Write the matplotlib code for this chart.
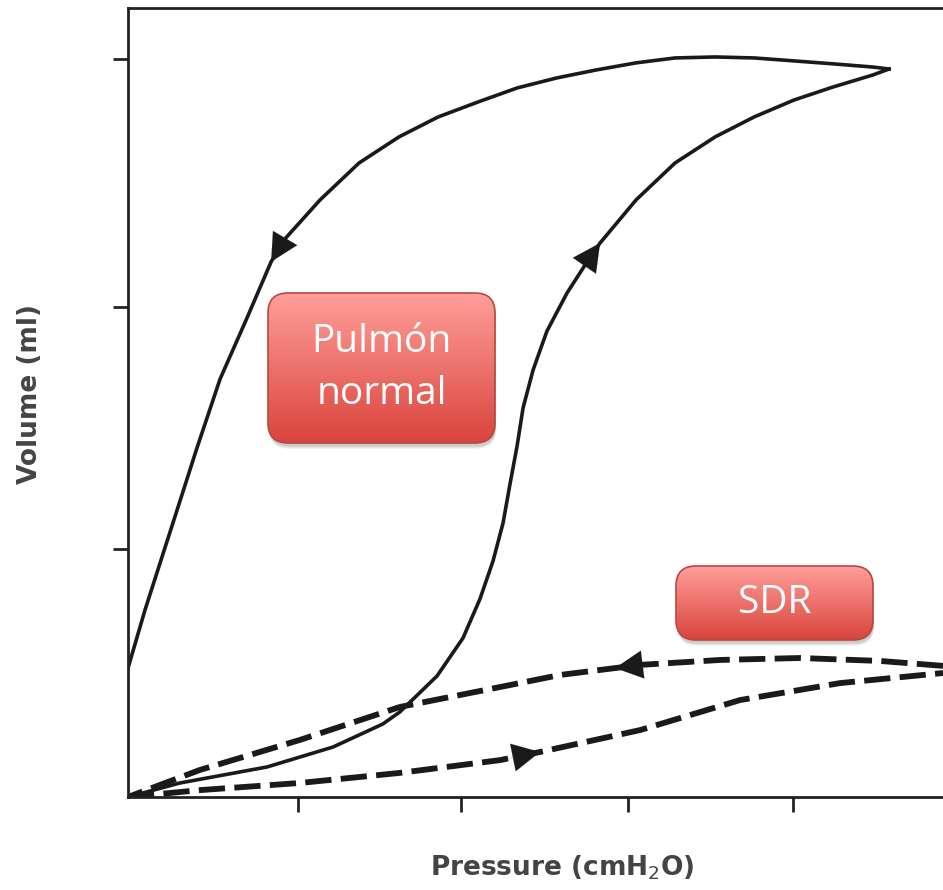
import matplotlib
matplotlib.use("Agg")
import matplotlib.pyplot as plt
from matplotlib.patches import FancyBboxPatch, Rectangle
from matplotlib.transforms import IdentityTransform
import numpy as np

# pressure / volume loops (arbitrary units, no tick labels)
normal_insp_p = [0, 3.15, 8.42, 12.42, 15.45, 16.48, 18.73, 20.30, 21.33, 22.12, 22.73,
                 23.15, 23.58, 23.94, 24.55, 25.39, 26.61, 27.82, 28.61, 30.79, 33.15,
                 35.58, 37.94, 40.36, 42.73, 45.15, 46.12]
normal_insp_v = [0, 5.7, 12.2, 20.3, 29.7, 34.6, 49.2, 64.6, 80.5, 95.9, 111.4,
                 127.2, 142.7, 158.1, 173.6, 189.4, 204.9, 217.5, 225.2, 242.7, 257.7,
                 268.3, 276.4, 283.3, 288.6, 293.5, 295.9]
normal_exp_p = [46.12, 45.15, 42.73, 40.36, 37.94, 35.58, 33.15, 30.79, 28.36, 26.0,
                23.58, 21.21, 18.79, 16.42, 14.0, 11.64, 9.45, 8.67, 7.21, 5.58,
                4.18, 3.15, 2.12, 1.03, 0]
normal_exp_v = [295.9, 296.7, 298.0, 299.2, 300.4, 300.8, 300.4, 298.4, 295.5, 292.3,
                288.2, 282.5, 276.4, 268.3, 257.7, 242.7, 226.4, 217.5, 194.7, 169.9,
                141.9, 120.3, 98.8, 76.0, 52.4]
sdr_exp_p = [49.39, 45.58, 40.73, 35.88, 31.03, 29.52, 26.18, 22.55, 16.48, 10.42, 4.36, 1.94, 0]
sdr_exp_v = [53.3, 55.3, 56.5, 55.7, 53.7, 52.4, 49.6, 44.7, 36.6, 23.2, 11.0, 4.9, 0]
sdr_insp_p = [0, 4.36, 10.42, 16.48, 22.55, 24.97, 31.03, 37.09, 43.15, 49.39]
sdr_insp_v = [0, 2.8, 5.7, 9.8, 15.0, 18.3, 27.2, 39.4, 46.3, 50.4]

x_ticks = [10.3, 20.2, 30.3, 40.3]
y_ticks = [101, 199, 300]

W, H = 943, 890
fig = plt.figure(figsize=(W / 100, H / 100), dpi=100)
ax = fig.add_axes([128 / W, 93 / H, 1 - 128 / W, 789 / H])
ax.set_xlim(0, 49.39)
ax.set_ylim(0, 320.7)

ink = "#1a1a1a"
ax.plot(normal_insp_p, normal_insp_v, color=ink, lw=2.6, solid_joinstyle="round")
ax.plot(normal_exp_p, normal_exp_v, color=ink, lw=2.6, solid_joinstyle="round")
ax.plot(sdr_exp_p, sdr_exp_v, color=ink, lw=4.2, linestyle=(0, (4.5, 1.6)),
        dash_capstyle="butt")
ax.plot(sdr_insp_p, sdr_insp_v, color=ink, lw=4.2, linestyle=(0, (4.5, 1.6)),
        dash_capstyle="butt")


def arrow_on(px, py, i_tail, i_head):
    ax.annotate("", xy=(px[i_head], py[i_head]), xytext=(px[i_tail], py[i_tail]),
                arrowprops=dict(arrowstyle="-|>,head_length=0.55,head_width=0.28",
                                color=ink, lw=0.1, shrinkA=0, shrinkB=0,
                                mutation_scale=36))


arrow_on(normal_exp_p, normal_exp_v, 16, 17)
arrow_on(normal_insp_p, normal_insp_v, 17, 18)
arrow_on(sdr_exp_p, sdr_exp_v, 4, 5)
arrow_on(sdr_insp_p, sdr_insp_v, 4, 5)

for side in ["left", "bottom", "top"]:
    ax.spines[side].set_linewidth(2.0)
    ax.spines[side].set_color("#222222")
ax.spines["right"].set_visible(False)
ax.set_xticks(x_ticks)
ax.set_yticks(y_ticks)
ax.tick_params(direction="out", length=11, width=2, color="#222222",
               labelleft=False, labelbottom=False)

fig.text(562 / W, 1 - 868 / H, "Pressure (cmH$_2$O)", ha="center", va="center",
         fontsize=19, color="#444444", fontweight="bold", family="DejaVu Sans")
fig.text(30 / W, 1 - 394 / H, "Volume (ml)", ha="center", va="center", rotation=90,
         fontsize=19, color="#444444", fontweight="bold", family="DejaVu Sans")


def label_box(x0, y0, x1, y1, text):
    # x/y in image pixels from the top-left corner
    tr = IdentityTransform()
    bx, by, bw, bh = x0, H - y1, x1 - x0, y1 - y0
    for k in range(6):
        sh = FancyBboxPatch((bx + 1, by - 3 - k * 0.6), bw, bh,
                            boxstyle="round,pad=0,rounding_size=20",
                            transform=tr, facecolor="black", edgecolor="none",
                            alpha=0.035, zorder=5)
        fig.add_artist(sh)
    box = FancyBboxPatch((bx, by), bw, bh, boxstyle="round,pad=0,rounding_size=20",
                         transform=tr, facecolor="none", edgecolor="#b84744",
                         lw=1.2, zorder=7)
    top = np.array([1.0, 0.62, 0.60])
    bot = np.array([0.85, 0.27, 0.24])
    n = 60
    for i in range(n):
        t = i / (n - 1)
        c = top * (1 - t) + bot * t
        r = Rectangle((bx, by + bh - (i + 1) * bh / n), bw, bh / n + 0.6,
                      transform=tr, facecolor=c, edgecolor="none", zorder=6)
        r.set_clip_path(box)
        fig.add_artist(r)
    fig.add_artist(box)
    fig.text((x0 + x1) / 2 / W, 1 - (y0 + y1) / 2 / H, text, ha="center",
             va="center", color="white", fontsize=28, family="Open Sans",
             linespacing=1.45, zorder=8)


label_box(268, 293, 495, 443, "Pulmón\nnormal")
label_box(676, 566, 873, 640, "SDR")

fig.savefig("out.png", dpi=100)
